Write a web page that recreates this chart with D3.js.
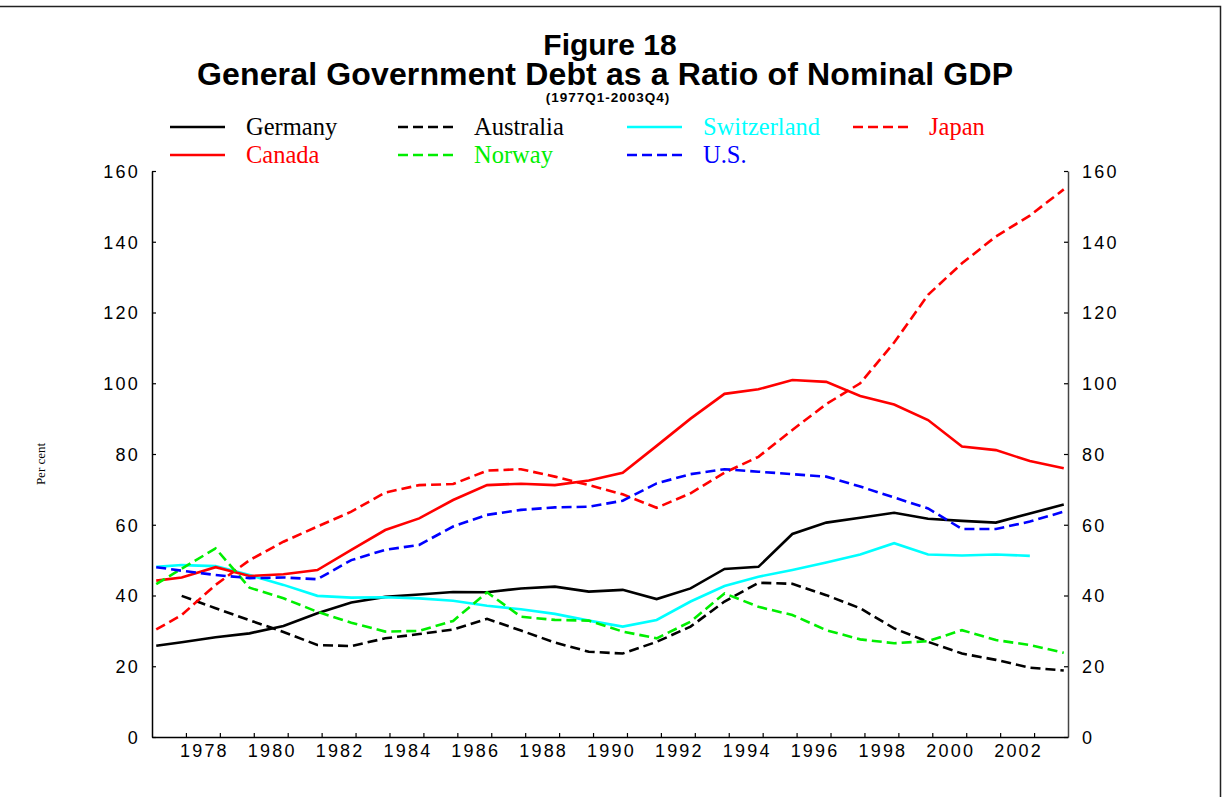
<!DOCTYPE html>
<html>
<head>
<meta charset="utf-8">
<script src="https://cdn.jsdelivr.net/npm/d3@7"></script>
<style>
  body { margin: 0; background: #fff; }
  svg { display: block; }
  .tick text { font-family: "Liberation Sans", Arial, sans-serif; font-size: 18px; letter-spacing: 2.2px; fill: #000; }
</style>
</head>
<body>
<div id="chart"></div>
<script>
// periods: first obs is 1977Q1, then one point per year at Q4
var periods = ["1977Q1"].concat(d3.range(1977, 2004).map(function (y) { return y + "Q4"; }));

var germany     = [25.8, 26.8, 28.2, 29.3, 31.4, 35.0, 38.0, 39.6, 40.3, 41.0, 40.9, 42.0, 42.5, 41.1, 41.6, 39.0, 42.0, 47.5, 48.1, 57.4, 60.6, 62.0, 63.4, 61.7, 61.1, 60.6, 63.2, 65.7];
var canada      = [44.2, 45.1, 48.0, 45.5, 46.0, 47.2, 52.9, 58.5, 61.8, 67.0, 71.2, 71.6, 71.2, 72.5, 74.7, 82.3, 90.0, 97.0, 98.3, 100.9, 100.4, 96.4, 94.0, 89.6, 82.1, 81.1, 78.0, 76.0];
var australia   = [null, 39.9, 36.4, 33.0, 29.7, 26.0, 25.7, 27.9, 29.1, 30.4, 33.4, 30.1, 26.7, 24.1, 23.6, 26.9, 31.2, 38.3, 43.6, 43.3, 40.1, 36.4, 30.7, 26.9, 23.6, 21.8, 19.6, 18.8];
var norway      = [43.2, 47.6, 53.3, 42.2, 39.2, 35.4, 32.3, 29.8, 30.0, 32.8, 40.9, 34.0, 33.1, 32.9, 29.8, 27.9, 32.6, 40.6, 36.8, 34.5, 30.2, 27.6, 26.5, 27.1, 30.2, 27.4, 26.0, 23.8];
var switzerland = [48.1, 48.6, 48.3, 45.8, 43.0, 39.9, 39.4, 39.5, 39.2, 38.5, 37.1, 36.1, 34.8, 32.9, 31.2, 33.1, 38.3, 42.7, 45.3, 47.2, 49.3, 51.6, 54.8, 51.6, 51.3, 51.6, 51.2, null];
var us          = [48.0, 47.0, 45.8, 44.9, 45.1, 44.6, 50.0, 52.9, 54.3, 59.5, 62.8, 64.2, 64.9, 65.1, 66.8, 71.7, 74.3, 75.7, 75.0, 74.3, 73.6, 70.8, 67.7, 64.6, 58.8, 58.8, 60.9, 63.7];
var japan       = [30.4, 34.5, 43.0, 50.0, 55.2, 59.5, 63.7, 69.1, 71.2, 71.5, 75.3, 75.7, 73.6, 71.2, 68.6, 64.8, 68.9, 74.7, 79.2, 86.8, 94.1, 100.0, 111.5, 125.0, 133.9, 141.5, 147.4, 154.8];

var seriesNames  = ["Germany", "Australia", "Switzerland", "Japan", "Canada", "Norway", "U.S."];
var seriesValues = [germany, australia, switzerland, japan, canada, norway, us];
var seriesColors = ["#000000", "#000000", "#00ffff", "#ff0000", "#ff0000", "#00ee00", "#0000ff"];
var seriesDashed = [false, true, false, true, false, true, true];

var yTicks = [0, 20, 40, 60, 80, 100, 120, 140, 160];
var xTickYears = d3.range(1978, 2004);
var xLabelYears = d3.range(1978, 2003, 2);

var width = 1225, height = 797;
var plot = {left: 152, right: 1068, top: 171, bottom: 737};

// quarter label -> decimal time, middle of quarter
function toTime(p) {
    var y = +p.slice(0, 4), q = +p.slice(5);
    return y + (q - 1) * 0.25 + 0.125;
}

var x = d3.scaleLinear().domain([1977, 2004]).range([plot.left, plot.right]);
var y = d3.scaleLinear().domain([0, 160]).range([plot.bottom, plot.top]);

var svg = d3.select("#chart").append("svg")
    .attr("width", width)
    .attr("height", height);

// frame round the picture (top and right edge only)
svg.append("path")
    .attr("d", "M0,6.5H1220.5V797")
    .attr("fill", "none")
    .attr("stroke", "#222")
    .attr("stroke-width", 1.5);

// titles
svg.append("text")
    .attr("x", 610).attr("y", 55)
    .attr("text-anchor", "middle")
    .style("font-family", "'Liberation Sans', Arial, sans-serif")
    .style("font-weight", "bold")
    .style("font-size", "30px")
    .text("Figure 18");
svg.append("text")
    .attr("x", 605).attr("y", 85)
    .attr("text-anchor", "middle")
    .style("font-family", "'Liberation Sans', Arial, sans-serif")
    .style("font-weight", "bold")
    .style("font-size", "32px")
    .attr("textLength", 816)
    .text("General Government Debt as a Ratio of Nominal GDP");
svg.append("text")
    .attr("x", 608).attr("y", 102)
    .attr("text-anchor", "middle")
    .style("font-family", "'Liberation Sans', Arial, sans-serif")
    .style("font-weight", "bold")
    .style("font-size", "13.5px")
    .style("letter-spacing", "1px")
    .text("(1977Q1-2003Q4)");

// legend, 4 columns x 2 rows
var legendCols = [170, 398, 627, 853];
var legendRows = [127, 155];
var legend = svg.append("g").attr("class", "legend");
seriesNames.forEach(function (name, i) {
    var col = i % 4, row = Math.floor(i / 4);
    var lx = legendCols[col], ly = legendRows[row];
    legend.append("line")
        .attr("x1", lx).attr("x2", lx + 55)
        .attr("y1", ly).attr("y2", ly)
        .attr("stroke", seriesColors[i])
        .attr("stroke-width", 2.6)
        .attr("stroke-dasharray", seriesDashed[i] ? "10,5" : null);
    legend.append("text")
        .attr("x", lx + 76).attr("y", ly + 8)
        .style("font-family", "'Liberation Serif', 'Times New Roman', serif")
        .style("font-size", "24.5px")
        .attr("fill", seriesColors[i])
        .text(name);
});

// y axis title
svg.append("text")
    .attr("transform", "translate(45,464) rotate(-90)")
    .attr("text-anchor", "middle")
    .style("font-family", "'Liberation Serif', 'Times New Roman', serif")
    .style("font-size", "13px")
    .text("Per cent");

// axes
var gLeft = svg.append("g")
    .attr("transform", "translate(" + plot.left + ",0)")
    .call(d3.axisLeft(y).tickValues(yTicks).tickSizeInner(-4).tickSizeOuter(0).tickPadding(12));
var gRight = svg.append("g")
    .attr("transform", "translate(" + plot.right + ",0)")
    .call(d3.axisRight(y).tickValues(yTicks).tickSizeInner(-4).tickSizeOuter(0).tickPadding(14));
var gBottom = svg.append("g")
    .attr("transform", "translate(0," + plot.bottom + ")")
    .call(d3.axisBottom(x).tickValues(xTickYears).tickFormat("").tickSizeInner(-4).tickSizeOuter(0));
var gLabels = svg.append("g")
    .attr("transform", "translate(0," + plot.bottom + ")")
    .call(d3.axisBottom(x).tickValues(xLabelYears.map(function (d) { return d + 0.5; }))
        .tickFormat(function (d) { return Math.floor(d); }).tickSize(0).tickPadding(7));
gLabels.select(".domain").remove();
gLabels.selectAll(".tick text").attr("dx", "1px");
gLeft.selectAll(".tick text").attr("dy", "0.36em");
gRight.selectAll(".tick text").attr("dy", "0.36em");

[gLeft, gRight, gBottom].forEach(function (g) {
    g.select(".domain").attr("stroke", "#000").attr("stroke-width", 1.5);
    g.selectAll(".tick line").attr("stroke", "#000").attr("stroke-width", 1.2);
});
gRight.select(".domain").attr("stroke", "#444");

// lines
var line = d3.line()
    .defined(function (d) { return d.v != null; })
    .x(function (d) { return x(d.t); })
    .y(function (d) { return y(d.v); });

var lines = svg.append("g").attr("class", "lines");
seriesValues.forEach(function (vals, i) {
    var pts = periods.map(function (p, k) { return {t: toTime(p), v: vals[k]}; });
    lines.append("path")
        .datum(pts)
        .attr("d", line)
        .attr("fill", "none")
        .attr("stroke", seriesColors[i])
        .attr("stroke-width", 2.6)
        .attr("stroke-dasharray", seriesDashed[i] ? "10,5" : null);
});
</script>
</body>
</html>
